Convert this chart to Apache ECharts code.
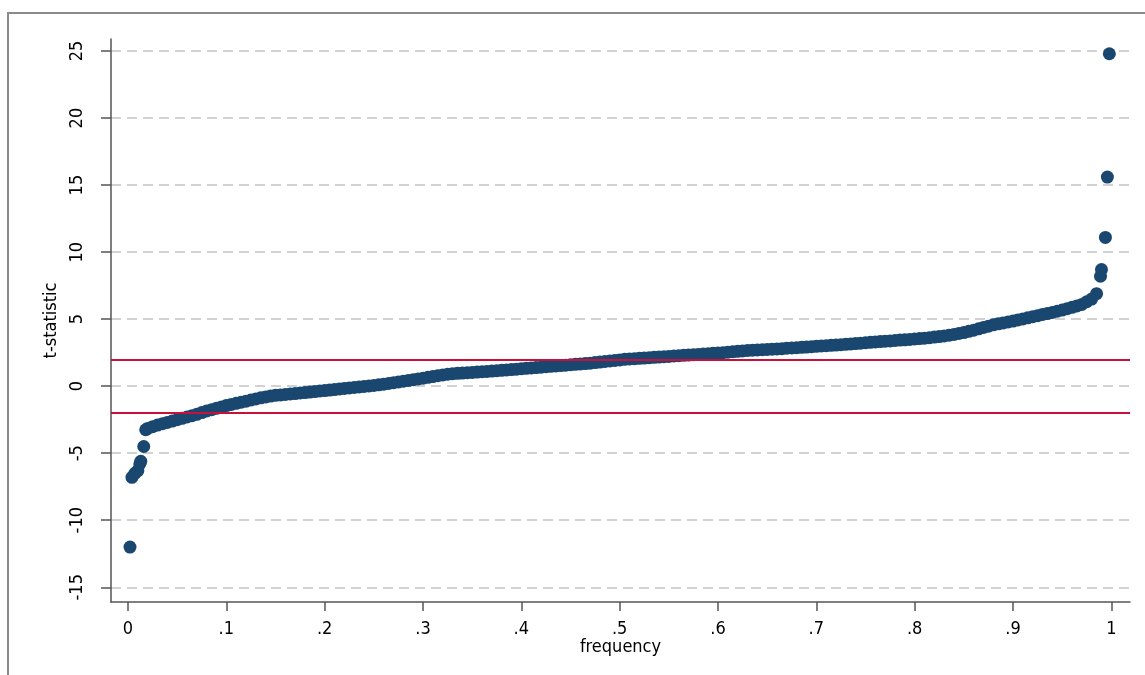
<!DOCTYPE html>
<html>
<head>
<meta charset="utf-8">
<script src="https://cdn.jsdelivr.net/npm/echarts@6/dist/echarts.min.js"></script>
<style>
html,body{margin:0;padding:0;background:#fff;}
#chart{width:1145px;height:675px;}
</style>
</head>
<body>
<div id="chart"></div>
<script>
// Sorted t-statistics (y) against their cumulative frequency (x)
const frequency = [
  0.002, 0.004, 0.007, 0.010, 0.012, 0.013, 0.016, 0.018,
  0.020, 0.025, 0.030, 0.035, 0.040, 0.045, 0.050, 0.055, 0.060, 0.065, 0.070, 0.075,
  0.080, 0.085, 0.090, 0.095, 0.100, 0.105, 0.110, 0.115, 0.120, 0.125,
  0.130, 0.135, 0.140, 0.145, 0.150, 0.155, 0.160, 0.165, 0.170, 0.175,
  0.180, 0.185, 0.190, 0.195, 0.200, 0.205, 0.210, 0.215, 0.220, 0.225,
  0.230, 0.235, 0.240, 0.245, 0.250, 0.255, 0.260, 0.265, 0.270, 0.275,
  0.280, 0.285, 0.290, 0.295, 0.300, 0.305, 0.310, 0.315, 0.320, 0.325,
  0.330, 0.335, 0.340, 0.345, 0.350, 0.355, 0.360, 0.365, 0.370, 0.375,
  0.380, 0.385, 0.390, 0.395, 0.400, 0.405, 0.410, 0.415, 0.420, 0.425,
  0.430, 0.435, 0.440, 0.445, 0.450, 0.455, 0.460, 0.465, 0.470, 0.475,
  0.480, 0.485, 0.490, 0.495, 0.500, 0.505, 0.510, 0.515, 0.520, 0.525,
  0.530, 0.535, 0.540, 0.545, 0.550, 0.555, 0.560, 0.565, 0.570, 0.575,
  0.580, 0.585, 0.590, 0.595, 0.600, 0.605, 0.610, 0.615, 0.620, 0.625,
  0.630, 0.635, 0.640, 0.645, 0.650, 0.655, 0.660, 0.665, 0.670, 0.675,
  0.680, 0.685, 0.690, 0.695, 0.700, 0.705, 0.710, 0.715, 0.720, 0.725,
  0.730, 0.735, 0.740, 0.745, 0.750, 0.755, 0.760, 0.765, 0.770, 0.775,
  0.780, 0.785, 0.790, 0.795, 0.800, 0.805, 0.810, 0.815, 0.820, 0.825,
  0.830, 0.835, 0.840, 0.845, 0.850, 0.855, 0.860, 0.865, 0.870, 0.875,
  0.880, 0.885, 0.890, 0.895, 0.900, 0.905, 0.910, 0.915, 0.920, 0.925,
  0.930, 0.935, 0.940, 0.945, 0.950, 0.955, 0.960, 0.965, 0.970, 0.975,
  0.980, 0.985,
  0.989, 0.990, 0.994, 0.996, 0.998
];
const tStatistic = [
  -12.0, -6.8, -6.5, -6.3, -5.8, -5.6, -4.5, -3.25,
  -3.15, -3.02, -2.9, -2.8, -2.7, -2.6, -2.5, -2.4, -2.3, -2.2, -2.1, -1.97,
  -1.85, -1.75, -1.65, -1.55, -1.45, -1.36, -1.28, -1.2, -1.12, -1.03,
  -0.95, -0.87, -0.8, -0.74, -0.68, -0.65, -0.62, -0.58, -0.55, -0.51,
  -0.48, -0.44, -0.4, -0.36, -0.33, -0.29, -0.25, -0.21, -0.17, -0.13,
  -0.1, -0.06, -0.02, 0.02, 0.06, 0.1, 0.15, 0.2, 0.26, 0.31,
  0.37, 0.42, 0.48, 0.54, 0.6, 0.66, 0.72, 0.78, 0.84, 0.89,
  0.93, 0.96, 0.98, 1.0, 1.03, 1.05, 1.08, 1.1, 1.13, 1.15,
  1.18, 1.21, 1.24, 1.27, 1.3, 1.33, 1.36, 1.39, 1.42, 1.45,
  1.48, 1.51, 1.54, 1.57, 1.6, 1.63, 1.66, 1.69, 1.72, 1.76,
  1.8, 1.84, 1.88, 1.92, 1.96, 2.0, 2.03, 2.05, 2.08, 2.1,
  2.12, 2.15, 2.17, 2.2, 2.22, 2.25, 2.27, 2.3, 2.32, 2.35,
  2.37, 2.4, 2.42, 2.45, 2.47, 2.5, 2.53, 2.57, 2.6, 2.63,
  2.66, 2.68, 2.7, 2.72, 2.74, 2.76, 2.78, 2.8, 2.83, 2.85,
  2.87, 2.9, 2.92, 2.95, 2.97, 3.0, 3.02, 3.05, 3.07, 3.1,
  3.12, 3.15, 3.18, 3.21, 3.24, 3.27, 3.3, 3.33, 3.35, 3.38,
  3.41, 3.44, 3.46, 3.49, 3.52, 3.55, 3.58, 3.62, 3.66, 3.7,
  3.75, 3.8, 3.86, 3.93, 4.0, 4.09, 4.18, 4.28, 4.38, 4.48,
  4.58, 4.65, 4.72, 4.79, 4.86, 4.94, 5.02, 5.1, 5.18, 5.26,
  5.35, 5.42, 5.5, 5.59, 5.68, 5.78, 5.88, 5.99, 6.1, 6.3,
  6.5, 6.9,
  8.2, 8.7, 11.1, 15.6, 24.8
];
const xTicks = [0, 0.1, 0.2, 0.3, 0.4, 0.5, 0.6, 0.7, 0.8, 0.9, 1];
const yTicks = [-15, -10, -5, 0, 5, 10, 15, 20, 25];
const criticalValues = [2, -2];

const points = frequency.map((f, i) => [f, tStatistic[i]]);
const fontFam = "'DejaVu Sans Condensed', 'Liberation Sans', Arial, sans-serif";

const chart = echarts.init(document.getElementById('chart'));
chart.setOption({
  backgroundColor: '#ffffff',
  animation: false,
  graphic: [{
    type: 'rect',
    shape: { x: 8, y: 13, width: 1300, height: 800 },
    style: { fill: 'none', stroke: '#8a8a8a', lineWidth: 2 },
    silent: true,
    z: -10
  }],
  grid: { left: 111, right: 15, top: 39, bottom: 73 },
  xAxis: {
    type: 'value',
    min: -0.0173,
    max: 1.019,
    name: 'frequency',
    nameLocation: 'middle',
    nameGap: 36,
    nameMoveOverlap: false,
    nameTextStyle: { fontFamily: fontFam, fontSize: 18, color: '#000' },
    axisLine: { show: true, onZero: false, lineStyle: { color: '#555', width: 1.5 } },
    axisTick: { show: true, length: 9, customValues: xTicks, lineStyle: { color: '#555', width: 1.5 } },
    axisLabel: {
      customValues: xTicks,
      margin: 18,
      fontFamily: fontFam, fontSize: 18, color: '#000',
      formatter: v => (v === 0 ? '0' : v === 1 ? '1' : String(v).replace(/^0\./, '.'))
    },
    splitLine: { show: false }
  },
  yAxis: {
    type: 'value',
    min: -16.1,
    max: 25.9,
    name: 't-statistic',
    nameLocation: 'middle',
    nameGap: 46,
    nameRotate: 90,
    nameTextStyle: { fontFamily: fontFam, fontSize: 18, color: '#000' },
    axisLine: { show: true, onZero: false, lineStyle: { color: '#555', width: 1.5 } },
    axisTick: { show: true, length: 10, customValues: yTicks, lineStyle: { color: '#555', width: 1.5 } },
    axisLabel: {
      customValues: yTicks,
      rotate: 90,
      margin: 25,
      fontFamily: fontFam, fontSize: 18, color: '#000'
    },
    splitLine: { show: true, lineStyle: { color: '#d2d2d2', width: 2, type: [10, 6] } }
  },
  series: [{
    type: 'scatter',
    data: points,
    symbol: 'circle',
    symbolSize: 13,
    itemStyle: { color: '#1a476f', opacity: 1 },
    markLine: {
      silent: true,
      symbol: 'none',
      label: { show: false },
      lineStyle: { color: '#c8103a', width: 1.8, type: 'solid' },
      data: criticalValues.map(v => ({ yAxis: v }))
    },
    z: 3
  }]
});
</script>
</body>
</html>
